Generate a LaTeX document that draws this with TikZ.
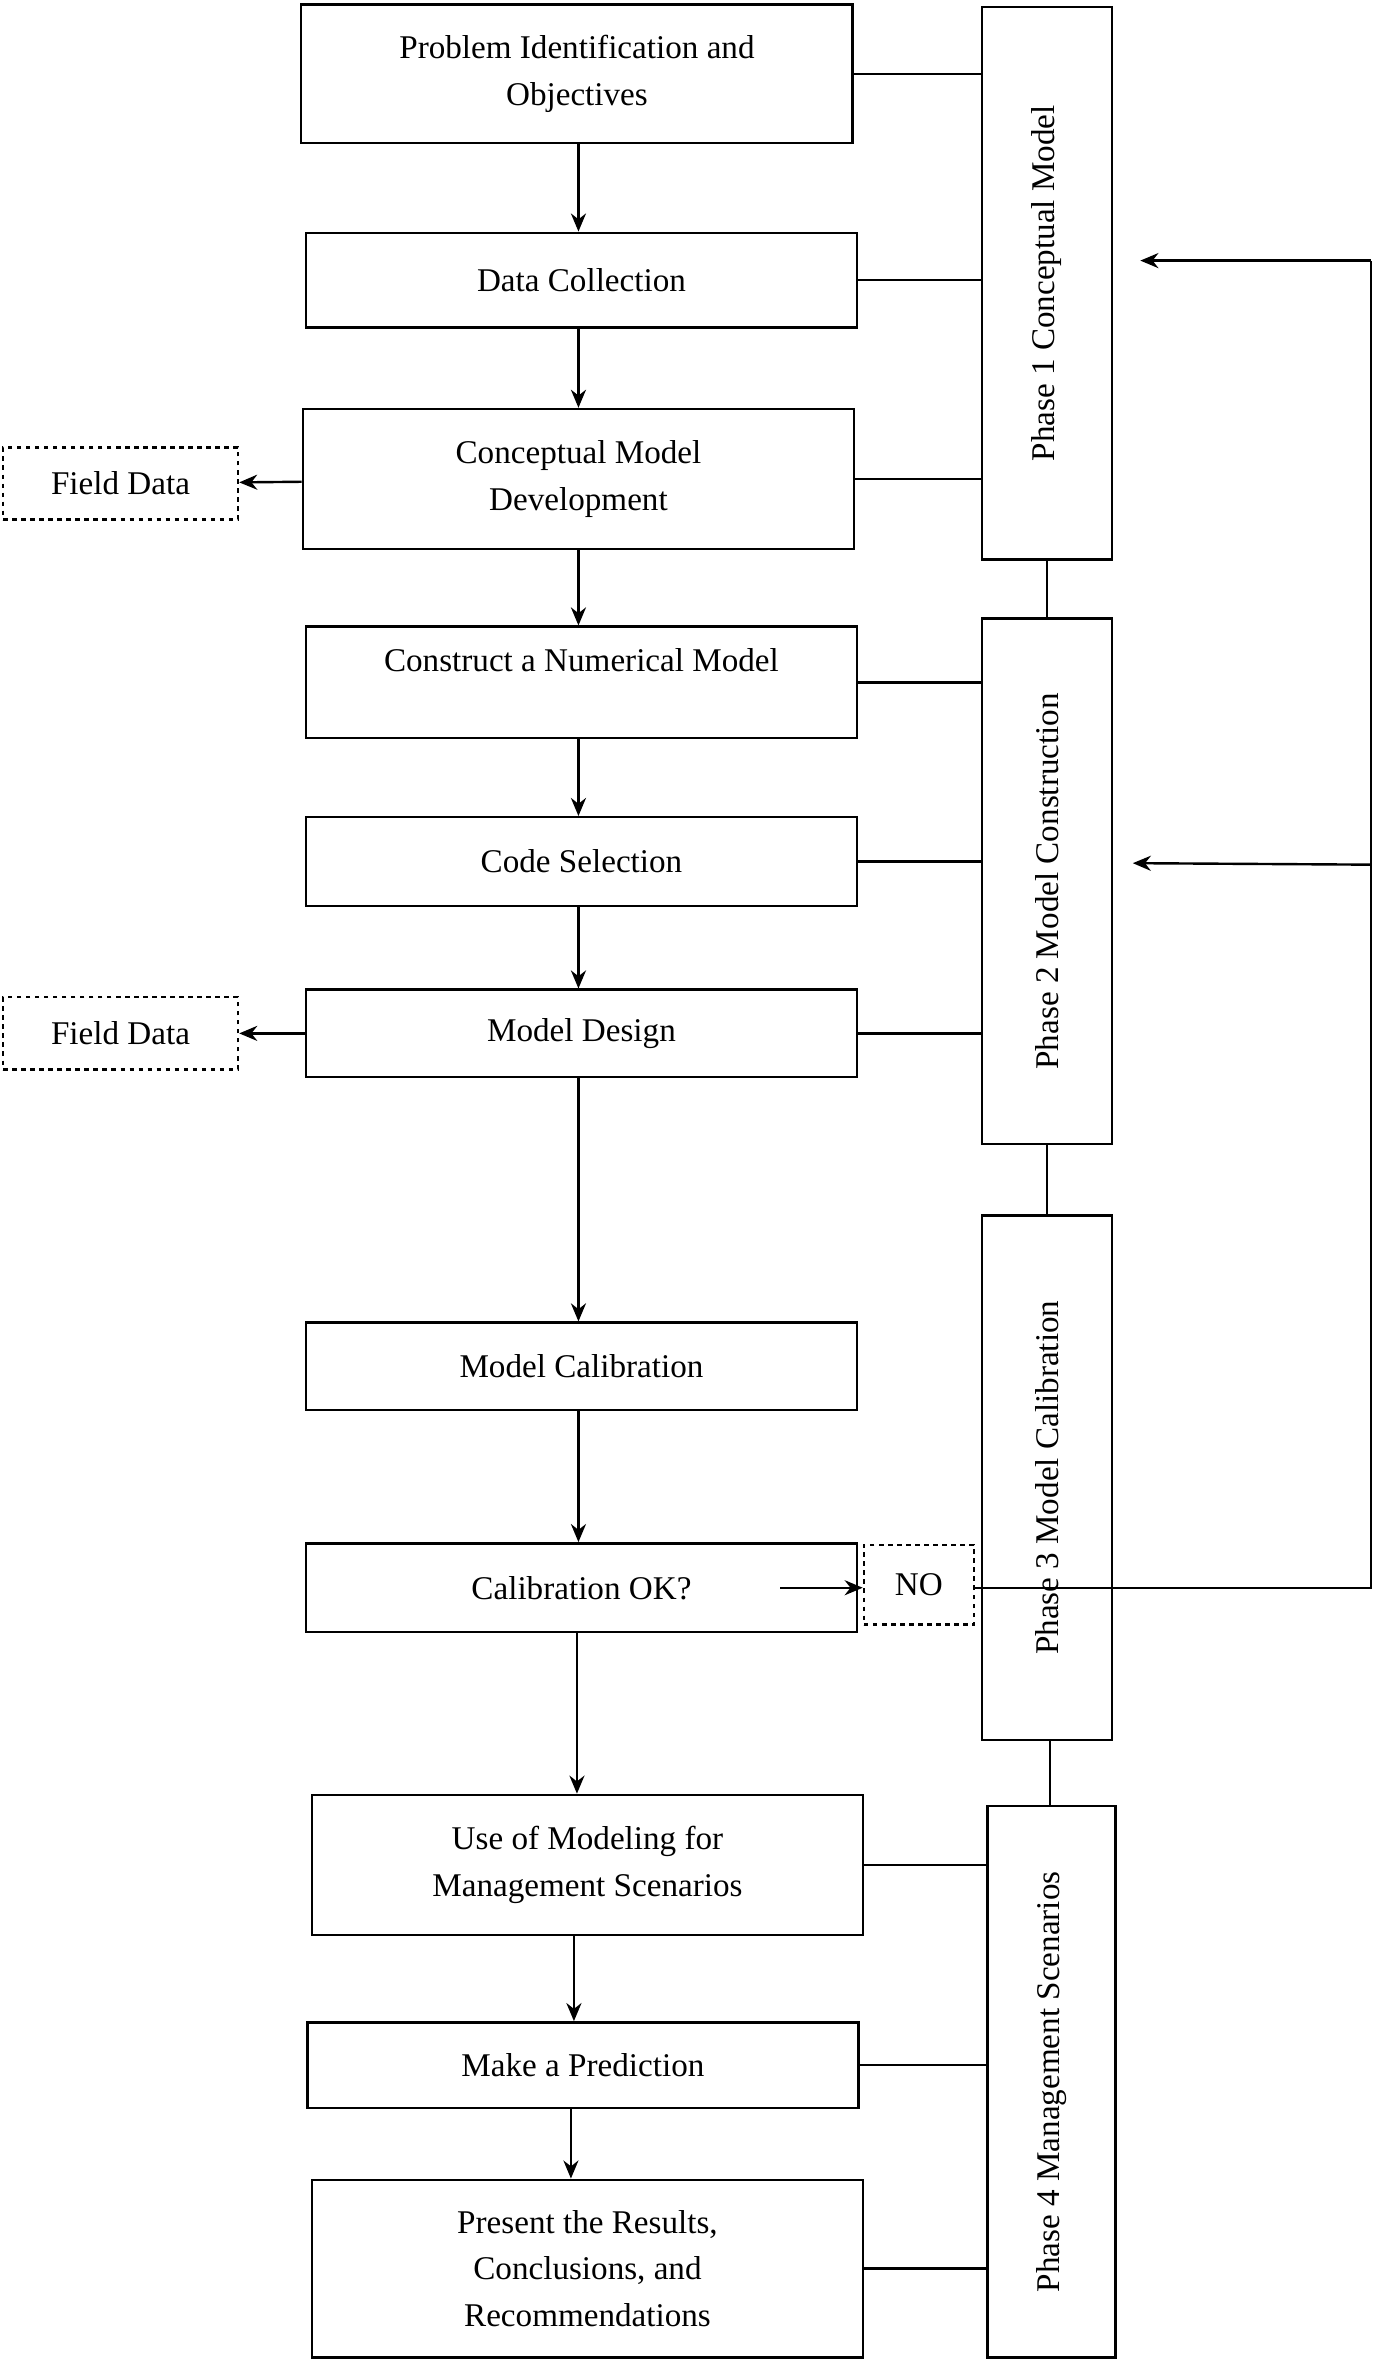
\documentclass[tikz,border=0pt]{standalone}
\usepackage{fontspec}
\setmainfont{Liberation Serif}
\usetikzlibrary{arrows.meta}
\begin{document}
\begin{tikzpicture}[x=1pt,y=-1pt, line width=1.6pt,
    box/.style={draw, align=center, font=\rmfamily\fontsize{22}{31}\selectfont, inner sep=0pt},
    dbox/.style={box, dashed},
    phase/.style={box, rotate=90},
    arr/.style={-{Stealth[length=12pt,width=10pt]}}]

      % Definitions
      \def\ax{384}   % Column of the down arrows
      \def\px{695}   % Centre of phase boxes
      \def\fx{910}   % Feedback line

      \useasboundingbox (0,0) rectangle (913,1568);

      % Main boxes
      \node [box, minimum width=366, minimum height=92] (prob) at (383,49) {Problem Identification and\\Objectives};
      \node [box, minimum width=366, minimum height=63] (data) at (386,186) {Data Collection};
      \node [box, minimum width=366, minimum height=93] (concept) at (384,318) {Conceptual Model\\Development};
      \node [box, minimum width=366, minimum height=74, text depth=30pt] (numeric) at (386,453) {Construct a Numerical Model};
      \node [box, minimum width=366, minimum height=59] (code) at (386,572) {Code Selection};
      \node [box, minimum width=366, minimum height=58] (design) at (386,686) {Model Design};
      \node [box, minimum width=366, minimum height=58] (calib) at (386,907) {Model Calibration};
      \node [box, minimum width=366, minimum height=59] (ok) at (386,1054) {Calibration OK?};
      \node [box, minimum width=366, minimum height=93] (use) at (390,1238) {Use of Modeling for\\Management Scenarios};
      \node [box, minimum width=366, minimum height=57] (predict) at (387,1371) {Make a Prediction};
      \node [box, minimum width=366, minimum height=118] (present) at (390,1506) {Present the Results,\\Conclusions, and\\Recommendations};

      % Dashed boxes
      \node [dbox, minimum width=156, minimum height=48] (field1) at (80,321) {Field Data};
      \node [dbox, minimum width=156, minimum height=48] (field2) at (80,686) {Field Data};
      \node [dbox, minimum width=73, minimum height=53] (no) at (610,1052) {NO};

      % Phase boxes
      \node [phase, minimum width=367, minimum height=86] (ph1) at (\px,188) {Phase 1 Conceptual Model};
      \node [phase, minimum width=349, minimum height=86] (ph2) at (\px,585) {Phase 2 Model Construction};
      \node [phase, minimum width=348, minimum height=86] (ph3) at (\px,981) {Phase 3 Model Calibration};
      \node [phase, minimum width=366, minimum height=85] (ph4) at (698,1382) {Phase 4 Management Scenarios};

      % Flow down the main boxes
      \foreach \a/\b in {prob/data, data/concept, concept/numeric, numeric/code, code/design, design/calib, calib/ok}
        \draw [arr] (\a.south -| \ax,0) -- (\b.north -| \ax,0);
      \draw [arr] (ok.south -| 383,0) -- (use.north -| 383,0);
      \draw [arr] (use.south -| 381,0) -- (predict.north -| 381,0);
      \draw [arr] (predict.south -| 379,0) -- (present.north -| 379,0);
      \draw [arr] (concept) -- (field1);
      \draw [arr] (design) -- (field2);

      % Links to the phase boxes
      \foreach \n/\p in {prob/ph1, data/ph1, concept/ph1, numeric/ph2, code/ph2, design/ph2, use/ph4, predict/ph4, present/ph4}
        \draw (\n.east) -- (\n.east -| \p.north);
      \draw (ph1.west) -- (ph2.east);
      \draw (ph2.west) -- (ph3.east);
      \draw (ph3.west -| 697,0) -- (ph4.east -| 697,0);

      % Feedback loop
      \coordinate (okin) at (518,1054);
      \coordinate (c1) at (757,173);
      \coordinate (c2) at (752,573);
      \draw [arr] (okin) -- (no.west |- okin);
      \draw (no.east |- okin) -- (\fx,1054) -- (\fx,173);
      \draw [arr] (\fx,173) -- (c1);
      \draw [arr] (\fx,574) -- (c2);

   \end{tikzpicture}
\end{document}
